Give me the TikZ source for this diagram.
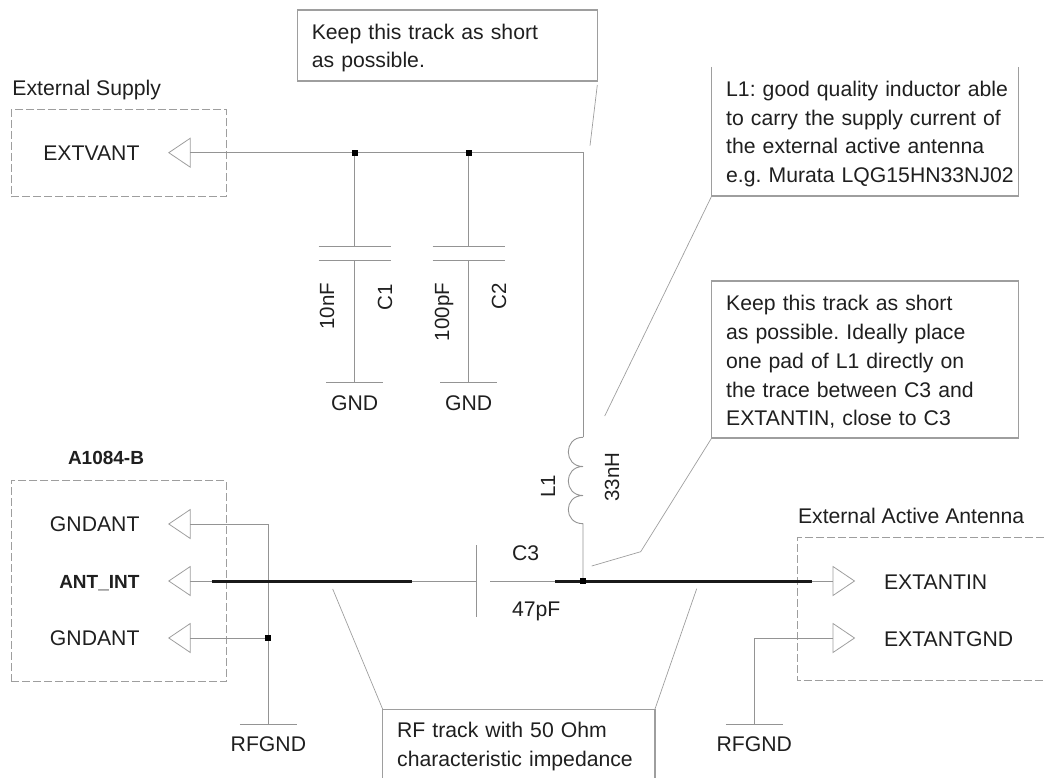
\documentclass[tikz,border=0pt]{standalone}
\usepackage{fontspec}
\setmainfont{Liberation Sans}
\definecolor{ink}{gray}{0.12}
\definecolor{wire}{gray}{0.58}
\definecolor{frame}{gray}{0.62}
\definecolor{lead}{gray}{0.62}
\newcommand{\tf}{\fontsize{21.2}{28.7}\selectfont}
\tikzset{
  lab/.style={inner sep=0pt,outer sep=0pt,text=ink,font=\tf},
  blab/.style={lab,font=\fontsize{19}{24}\selectfont\bfseries},
  rlab/.style={lab,rotate=90,anchor=base east,font=\fontsize{20.5}{24}\selectfont},
  callout/.style={lab,inner xsep=0pt,inner ysep=0pt,align=left,anchor=center,
    execute at begin node={\frenchspacing\leftskip=14.5pt\relax\leavevmode\rule{0pt}{20.5pt}}},
  boxline/.style={draw=frame,line width=1.1pt},
  dashbox/.style={draw=frame,line width=1pt,dash pattern=on 8pt off 3pt},
  wireline/.style={draw=wire,line width=0.9pt},
  trk/.style={draw=black!90,line width=3pt},
  leader/.style={draw=lead,line width=0.7pt},
  tri/.style={draw=frame,line width=0.8pt},
  dot/.style={fill=black,inner sep=0pt,minimum size=6pt,draw=none,rectangle},
}
\begin{document}
\begin{tikzpicture}[x=1pt,y=-1pt]
\useasboundingbox (0,0) rectangle (1044,778);
% dashed frames
\node[dashbox,rectangle,inner sep=0pt,outer sep=0pt,minimum width=215.5pt,minimum height=87pt,anchor=north west] (supply) at (11,110) {};
\node[dashbox,rectangle,inner sep=0pt,outer sep=0pt,minimum width=215.5pt,minimum height=200.3pt,anchor=north west] (module) at (11,480.7) {};
\coordinate (antNW) at (1044,537.7);
\coordinate (antN) at (797.3,537.7);
\coordinate (antS) at (797.3,680.7);
\coordinate (antSE) at (1044,680.7);
\draw[dashbox] (antNW) -- (antN) -- (antS) -- (antSE);
% heading labels
\node[lab,anchor=base west] (hsupply) at (12.5,96) {External Supply};
\node[blab,anchor=base west] (hmodule) at (68,464) {A1084-B};
\node[lab,anchor=base west] (hant) at (798,523.3) {External Active Antenna};
% port labels
\node[lab,anchor=base east] (lext) at (139.5,160.7) {EXTVANT};
\node[lab,anchor=base east] (lg1) at (139.5,531.7) {GNDANT};
\node[blab,anchor=base east] (lant) at (139.5,588.5) {ANT\_INT};
\node[lab,anchor=base east] (lg2) at (139.5,645.5) {GNDANT};
\node[lab,anchor=base west] (lin) at (884,589) {EXTANTIN};
\node[lab,anchor=base west] (lgnd) at (884,646) {EXTANTGND};
% port triangles
\coordinate (pext) at (190.3,152.7);
\coordinate (pg1) at (190.3,524);
\coordinate (pant) at (190.3,581);
\coordinate (pg2) at (190.3,638);
\coordinate (pin) at (833,581);
\coordinate (pgnd) at (833,638);
\foreach \p in {pext,pg1,pant,pg2}{
  \draw[tri] (\p) ++(0,-14.5) -- ++(-21.5,14.5) -- ++(21.5,14.5) -- cycle;}
\foreach \p in {pin,pgnd}{
  \draw[tri] (\p) ++(0,-14.5) -- ++(21.5,14.5) -- ++(-21.5,14.5) -- cycle;}
% supply rail
\coordinate (corner) at (583,152.7);
\node[dot] (d1) at (354.7,152.7) {};
\node[dot] (d2) at (468.7,152.7) {};
\coordinate (ltop) at (583,437.3);
\coordinate (l1a) at (583,466.5);
\coordinate (l1b) at (583,495.5);
\coordinate (lbot) at (583,523.7);
\node[dot] (d3) at (583,581) {};
\draw[wireline] (pext) -- (d1) -- (d2) -- (corner) -- (ltop);
\draw[wireline] (ltop) .. controls (563.4,437.3) and (563.4,466.5) .. (l1a)
  .. controls (563.4,466.5) and (563.4,495.5) .. (l1b)
  .. controls (563.4,495.5) and (563.4,523.7) .. (lbot) -- (d3);
% C1, C2
\coordinate (c1t) at (354.7,246);
\coordinate (c1b) at (354.7,260.5);
\coordinate (g1) at (354.7,382);
\coordinate (c2t) at (468.7,246);
\coordinate (c2b) at (468.7,260.5);
\coordinate (g2) at (468.7,382);
\draw[wireline] (d1) -- (c1t) ++(-36,0) -- ++(72,0);
\draw[wireline] (c1b) ++(-36,0) -- ++(72,0);
\draw[wireline] (c1b) -- (g1) ++(-28.5,0) -- ++(57,0);
\draw[wireline] (d2) -- (c2t) ++(-36,0) -- ++(72,0);
\draw[wireline] (c2b) ++(-36,0) -- ++(72,0);
\draw[wireline] (c2b) -- (g2) ++(-28.5,0) -- ++(57,0);
\node[rlab] (v1) at (334,282.7) {10nF};
\node[rlab] (n1) at (392,284) {C1};
\node[rlab] (v2) at (449,283) {100pF};
\node[rlab] (n2) at (506,283) {C2};
\node[lab,anchor=base] (tg1) at (354.7,410) {GND};
\node[lab,anchor=base] (tg2) at (468.7,410) {GND};
% L1 labels
\node[rlab] (nl) at (555,475) {L1};
\node[rlab] (vl) at (619,452.7) {33nH};
% left grounds
\coordinate (j1) at (268.4,524);
\node[dot] (d4) at (268.4,638) {};
\coordinate (rg1) at (268.4,724.3);
\draw[wireline] (pg1) -- (j1) -- (d4) -- (rg1) ++(-28.5,0) -- ++(57,0);
\draw[wireline] (pg2) -- (d4);
\node[lab,anchor=base] (trg1) at (268.4,751.7) {RFGND};
% RF line
\coordinate (t1a) at (211.7,581);
\coordinate (t1b) at (411.7,581);
\coordinate (cp) at (476,581);
\coordinate (cq) at (490,581);
\coordinate (t2a) at (555,581);
\coordinate (t2b) at (811.7,581);
\draw[wireline] (pant) -- (t1a);
\draw[wireline] (t1b) -- (cp);
\draw[wireline] (cq) -- (t2a);
\draw[wireline] (t2b) -- (pin);
\draw[wireline] (cp) ++(0,-36) -- ++(0,72);
\draw[trk] (t1a) -- (t1b);
\draw[trk] (t2a) -- (t2b);
\node[dot] at (d3) {};
\node[lab,anchor=base west] (nc3) at (512,560) {C3};
\node[lab,anchor=base west] (vc3) at (512,616.7) {47pF};
% right ground
\coordinate (j2) at (754.3,638);
\coordinate (rg2) at (754.3,724);
\draw[wireline] (pgnd) -- (j2) -- (rg2) ++(-28.5,0) -- ++(57,0);
\node[lab,anchor=base] (trg2) at (754.3,751.7) {RFGND};
% callouts
\node[callout,boxline,text width=300pt,minimum height=71pt] (box1) at (447.3,45.5) {Keep this track as short\\as possible.};
\node[callout,text width=306.6pt,minimum height=129pt] (box2) at (865,131.5) {L1: good quality inductor able\\to carry the supply current of\\the external active antenna\\e.g. Murata LQG15HN33NJ02};
\draw[boxline] (box2.north west) -- (box2.south west) -- (box2.south east) -- (box2.north east);
\node[callout,boxline,text width=306.6pt,minimum height=157pt] (box3) at (865,359.5) {Keep this track as short\\as possible. Ideally place\\one pad of L1 directly on\\the trace between C3 and\\EXTANTIN, close to C3};
\node[callout,text width=272.3pt,minimum height=69.7pt] (box4) at (518.8,744) {RF track with 50 Ohm\\characteristic impedance};
\draw[boxline] (box4.south west) -- (box4.north west) -- (box4.north east) -- (box4.south east);
% leaders
\coordinate (e1) at (590,145.7);
\coordinate (s1) at (597.3,85);
\coordinate (e2) at (604.7,416);
\coordinate (e3) at (591.7,566);
\coordinate (k3) at (640.7,551.7);
\coordinate (e4) at (332.7,589);
\coordinate (e5) at (696.7,588.7);
\draw[leader] (s1) -- (e1);
\draw[leader] (box2.south west) -- (e2);
\draw[leader] (box3.south west) -- (k3) -- (e3);
\draw[leader] (box4.north west) -- (e4);
\draw[leader] (box4.north east) -- (e5);
\end{tikzpicture}
\end{document}
